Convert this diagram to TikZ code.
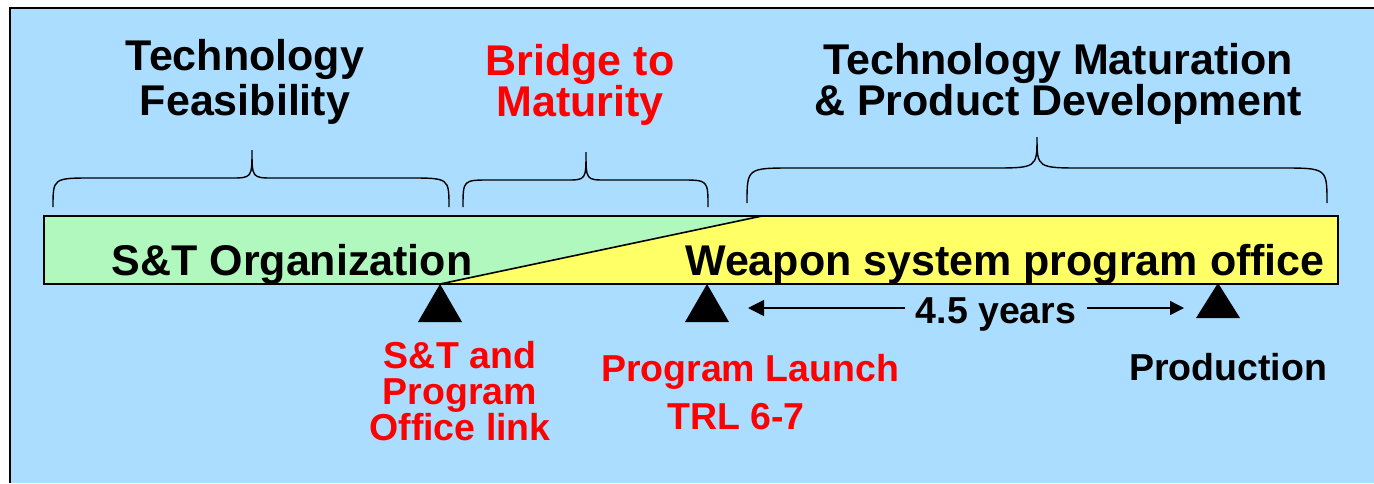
\documentclass[tikz,border=0pt]{standalone}
\usepackage{fontspec}
\setmainfont{Liberation Sans}
\usepackage{tikz}
\usetikzlibrary{arrows.meta}

\definecolor{skyblue}{RGB}{170,221,255}
\definecolor{stgreen}{RGB}{176,248,190}
\definecolor{wsyellow}{RGB}{255,255,102}

\newcommand{\tightlines}{\lineskiplimit-20pt\relax}
% curly brace over a phase: x1, x2, x tip, y ends, y flat, y tip, end radius, tip radius
\newcommand{\phasebrace}[8]{%
  \draw[line width=.7pt] (#1,#4) .. controls (#1,#5) .. ({#1+#7},#5) -- ({#3-#8},#5)
        .. controls (#3,#5) .. (#3,#6) .. controls (#3,#5) .. ({#3+#8},#5) -- ({#2-#7},#5)
        .. controls (#2,#5) .. (#2,#4);}

\begin{document}
\begin{tikzpicture}[x=.5pt, y=-.5pt,
  big/.style={font=\fontsize{21.5}{22.5}\selectfont\bfseries\tightlines, inner sep=0pt, align=center},
  small/.style={font=\fontsize{18.75}{18}\selectfont\bfseries\tightlines, inner sep=0pt, align=center},
  milestone/.style={fill=black}]
  \useasboundingbox (0,0) rectangle (1374,483);
  \fill[white] (0,0) rectangle (1374,483);
  \fill[skyblue] (10,8) rectangle (1374,483);
  \draw[line width=1.2pt] (10,483) -- (10,8) -- (1374,8);

  % the bar: S&T part and program office part
  \fill[stgreen] (44,216) -- (762,216) -- (440,284) -- (44,284) -- cycle;
  \fill[wsyellow] (762,216) -- (1338,216) -- (1338,284) -- (440,284) -- cycle;
  \draw[line width=.8pt] (44,216) rectangle (1338,284) (440,284) -- (762,216);
  \node[big, anchor=base] (storg) at (292,275) {S\&T Organization};
  \node[big, anchor=base] (wspo) at (1005,275) {Weapon system program office};

  % phases
  \phasebrace{53}{449}{252}{207}{178}{150}{40}{22}
  \phasebrace{463}{708}{586}{207}{180}{152}{27}{20}
  \phasebrace{747}{1327}{1037}{203}{168}{137}{46}{46}
  \node[big] (feas) at (245,82) {Technology\\Feasibility};
  \node[big, text=red, font=\fontsize{21.5}{20.4}\selectfont\bfseries\tightlines] (bridge) at (580,85) {Bridge to\\Maturity};
  \node[big, font=\fontsize{21.5}{20.5}\selectfont\bfseries\tightlines] (matur) at (1058,84) {Technology Maturation\\\& Product Development};

  % milestones
  \coordinate (link) at (440,284);
  \coordinate (launch) at (707,284);
  \coordinate (prod) at (1218,283);
  \fill[milestone] (link) -- ++(22,38) -- ++(-44,0) -- cycle;
  \fill[milestone] (launch) -- ++(22,38) -- ++(-44,0) -- cycle;
  \fill[milestone] (prod) -- ++(22,35) -- ++(-44,0) -- cycle;
  \node[small, text=red] (linklbl) at (460,391) {S\&T and\\Program\\Office link};
  \node[small, text=red, font=\fontsize{18.75}{24}\selectfont\bfseries] (launchlbl) at (750,392) {Program Launch\\TRL 6-7\hspace*{14pt}};
  \node[small, anchor=base] (prodlbl) at (1228,380) {Production};

  % time from launch to production
  \coordinate (lt) at (748,308);
  \coordinate (rt) at (1184,308);
  \node[small, inner xsep=5pt, anchor=base] (yrs) at (996,323) {4.5 years};
  \draw[line width=.7pt, -{Triangle[length=8pt,width=8pt]}] (yrs.west |- lt) -- (lt);
  \draw[line width=.7pt, -{Triangle[length=7pt,width=7pt]}] (yrs.east |- rt) -- (rt);
\end{tikzpicture}
\end{document}
